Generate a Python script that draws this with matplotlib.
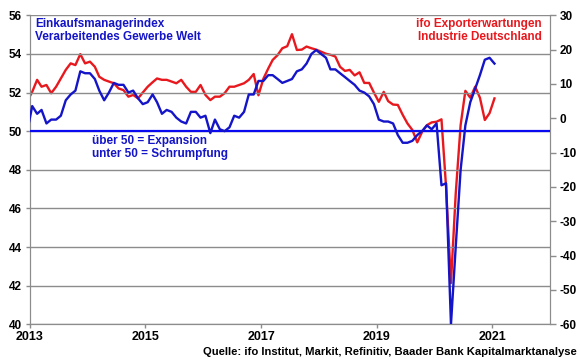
import numpy as np
import pandas as pd
import matplotlib
matplotlib.use("Agg")
import matplotlib.pyplot as plt
import matplotlib.dates as mdates

plt.rcParams['font.family'] = ['Liberation Sans', 'DejaVu Sans']
plt.rcParams['font.weight'] = 'bold'
plt.rcParams['axes.unicode_minus'] = False

# Monatswerte Dez 2012 - Jan 2021
dates = pd.date_range('2012-12-01', '2021-01-01', freq='MS') + pd.Timedelta(days=14)

pmi = [50.0,
       51.3, 50.9, 51.1, 50.4, 50.6, 50.6, 50.8, 51.6, 51.9, 52.1, 53.1, 53.0,
       53.0, 52.7, 52.1, 51.6, 52.0, 52.5, 52.4, 52.4, 52.0, 52.1, 51.7, 51.4,
       51.5, 51.9, 51.5, 50.9, 51.1, 51.0, 50.7, 50.5, 50.4, 51.0, 51.0, 50.7,
       50.8, 49.9, 50.6, 50.1, 50.0, 50.2, 50.8, 50.7, 51.0, 51.9, 51.9, 52.6,
       52.6, 52.9, 52.9, 52.7, 52.5, 52.6, 52.7, 53.1, 53.2, 53.5, 54.0, 54.2,
       54.0, 53.8, 53.2, 53.2, 53.0, 52.8, 52.6, 52.4, 52.1, 52.0, 51.8, 51.4,
       50.6, 50.5, 50.5, 50.4, 49.8, 49.4, 49.4, 49.5, 49.8, 50.0, 50.3, 50.1,
       50.4, 47.2, 47.3, 40.0, 44.0, 48.0, 50.3, 51.5, 52.2, 52.9, 53.7, 53.8,
       53.5]

ifo_export = [5.0,
              7.7, 11.2, 9.2, 9.7, 7.3, 9.2, 11.6, 14.1, 16.0, 15.5, 18.7, 16.0,
              16.5, 15.0, 12.1, 11.2, 10.7, 10.2, 8.7, 8.2, 6.3, 6.8, 5.8, 7.5,
              9.2, 10.5, 11.6, 11.2, 11.2, 10.7, 10.2, 11.2, 9.2, 7.7, 7.7, 9.7,
              6.8, 5.3, 6.3, 6.3, 7.3, 9.2, 9.2, 9.7, 10.2, 11.2, 12.9, 6.7,
              11.5, 14.5, 17.0, 18.4, 20.4, 21.0, 24.5, 19.9, 20.0, 20.9, 20.4, 20.0,
              19.4, 18.8, 18.5, 18.0, 15.0, 13.8, 14.1, 12.5, 13.4, 10.3, 10.3, 7.5,
              4.8, 7.7, 5.0, 4.0, 3.9, 1.0, -1.5, -3.4, -7.0, -4.0, -2.0, -1.2,
              -1.0, -0.3, -20.0, -48.0, -22.0, -2.0, 8.0, 6.0, 9.2, 6.0, -0.5, 1.5,
              5.8]

left_ticks = np.arange(40, 57, 2)
right_ticks = np.arange(-60, 31, 10)
year_ticks = [2013, 2015, 2017, 2019, 2021]

blue = '#1414C8'
red = '#E8191E'
grey = '#8C8C8C'

fig = plt.figure(figsize=(5.8, 3.59), dpi=100)
ax = fig.add_axes([30 / 580, 1 - 324.3 / 359, 520 / 580, 309 / 359])
ax2 = ax.twinx()

# linke Achse: Einkaufsmanagerindex
ax.set_ylim(40, 56)
ax.set_yticks(left_ticks)
ax.grid(axis='y', color=grey, lw=1.0)
ax.axhline(50, color='#0A0AF0', lw=1.6, zorder=3)
ax.plot(dates, pmi, color=blue, lw=1.7, zorder=4)

# rechte Achse: ifo Exporterwartungen
ax2.set_ylim(-60, 30)
ax2.set_yticks(right_ticks)
ax2.plot(dates, ifo_export, color=red, lw=1.7)

ax.set_zorder(ax2.get_zorder() + 1)
ax.patch.set_visible(False)

ax.set_xlim(pd.Timestamp('2013-01-01'), pd.Timestamp('2022-01-01'))
ax.set_xticks([pd.Timestamp(f'{y}-01-01') for y in year_ticks])
ax.xaxis.set_major_formatter(mdates.DateFormatter('%Y'))

for a in (ax, ax2):
    for s in a.spines.values():
        s.set_color(grey)
    a.spines['top'].set_visible(False)
    a.tick_params(colors='black', labelsize=8.5, width=1, length=3, color=grey)
ax.tick_params(axis='y', pad=3)
ax.tick_params(axis='x', labelsize=9, pad=2)
ax2.tick_params(axis='y', length=4, pad=3)
for lab in ax.get_xticklabels() + ax.get_yticklabels() + ax2.get_yticklabels():
    lab.set_fontweight('bold')

fig.text(35 / 580, 1 - 18 / 359, 'Einkaufsmanagerindex\nVerarbeitendes Gewerbe Welt',
         color=blue, fontsize=8.5, fontweight='bold', va='top', ha='left', linespacing=1.1)
fig.text(542 / 580, 1 - 18 / 359, 'ifo Exporterwartungen\nIndustrie Deutschland',
         color=red, fontsize=8.5, fontweight='bold', va='top', ha='right', linespacing=1.1,
         multialignment='right')
fig.text(92 / 580, 1 - 135 / 359, 'über 50 = Expansion\nunter 50 = Schrumpfung',
         color=blue, fontsize=8.5, fontweight='bold', va='top', ha='left', linespacing=1.1)
fig.text(577 / 580, 4 / 359, 'Quelle: ifo Institut, Markit, Refinitiv, Baader Bank Kapitalmarktanalyse',
         color='black', fontsize=8.1, fontweight='bold', va='baseline', ha='right')

fig.savefig('out.png', dpi=100)
